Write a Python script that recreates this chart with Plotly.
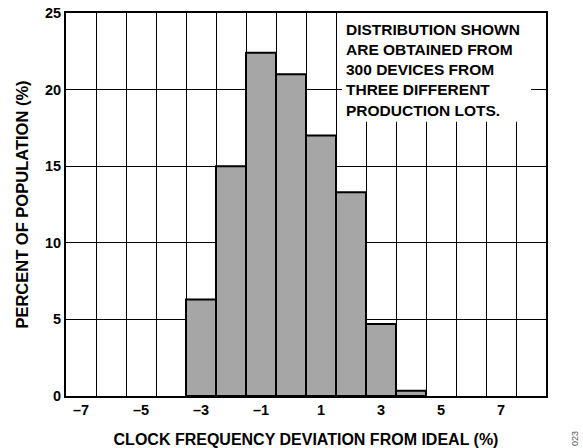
import plotly.graph_objects as go

# Histogram of clock frequency deviation (bin centres in %, share of population in %)
deviation = [-3, -2, -1, 0, 1, 2, 3, 4]
percent = [6.3, 15.0, 22.4, 21.0, 17.0, 13.3, 4.7, 0.35]

x_tick_vals = [-7, -5, -3, -1, 1, 3, 5, 7]
x_tick_text = ["–7", "–5", "–3", "–1", "1", "3", "5", "7"]
y_tick_vals = [0, 5, 10, 15, 20, 25]

note = ("DISTRIBUTION SHOWN<br>ARE OBTAINED FROM<br>300 DEVICES FROM<br>"
        "THREE DIFFERENT<br>PRODUCTION LOTS.")

FONT = "Arial, Liberation Sans, sans-serif"

fig = go.Figure(
    go.Bar(
        x=deviation,
        y=percent,
        width=1,
        marker=dict(color="#a6a6a6", line=dict(color="black", width=2)),
    )
)

fig.update_layout(
    width=583,
    height=448,
    margin=dict(l=66, r=37, t=13, b=52),
    paper_bgcolor="white",
    plot_bgcolor="white",
    showlegend=False,
    font=dict(family=FONT, size=14, color="black", weight="bold"),
    xaxis=dict(
        range=[-7.5, 8.5],
        automargin=False,
        tickmode="array",
        tickvals=x_tick_vals,
        ticktext=x_tick_text,
        showgrid=False,
        zeroline=False,
        showline=True,
        linecolor="black",
        linewidth=2,
        mirror=True,
        ticks="",
        tickfont=dict(size=14.5, weight="bold"),
        minor=dict(tick0=0.5, dtick=1, showgrid=True, gridcolor="black",
                   gridwidth=1, ticks=""),
        title=dict(text="CLOCK FREQUENCY DEVIATION FROM IDEAL (%)",
                   font=dict(size=16, weight="bold"), standoff=16),
    ),
    yaxis=dict(
        range=[0, 25],
        automargin=False,
        tickmode="array",
        tickvals=y_tick_vals,
        showgrid=True,
        gridcolor="black",
        gridwidth=1,
        zeroline=False,
        showline=True,
        linecolor="black",
        linewidth=2,
        mirror=True,
        ticks="",
        tickfont=dict(size=14.5, weight="bold"),
        title=dict(text="PERCENT OF POPULATION (%)",
                   font=dict(size=16.5, weight="bold"), standoff=12),
    ),
)

# White panel behind the note text
fig.add_shape(
    type="rect", xref="x", yref="y",
    x0=1.7, x1=8.0, y0=17.9, y1=25,
    fillcolor="white", line=dict(width=0), layer="between",
)

fig.add_annotation(
    text=note, xref="x", yref="paper", x=1.78, y=0.985,
    xanchor="left", yanchor="top", align="left", showarrow=False,
    font=dict(family=FONT, size=15.5, weight="bold", color="black"),
)

fig.add_annotation(
    text="023", xref="paper", yref="paper", x=1.06, y=-0.11,
    xanchor="center", yanchor="middle", showarrow=False, textangle=-90,
    font=dict(family=FONT, size=9, color="#555555", weight="normal"),
)

fig.write_html("out.html")
